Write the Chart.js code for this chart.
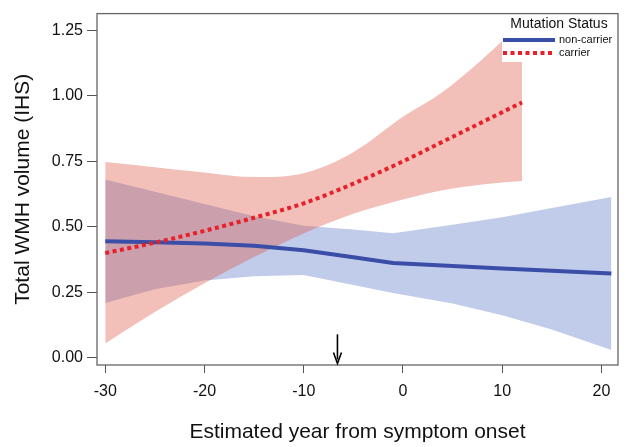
<!DOCTYPE html>
<html>
  <head>
    <title>Total WMH volume by mutation status</title>
    <style>
      html, body { margin: 0; padding: 0; background: #fff; }
    </style>
  </head>
  <body>
    <script src="https://cdn.jsdelivr.net/npm/chart.js"></script>

    <canvas id="wmhChart" width="629" height="447"></canvas>

    <script>
      // Data
      const nonCarrierYears = [-30, -25, -20, -15, -10, -5, -1, 5, 10, 15, 21];
      const nonCarrierMean  = [0.445, 0.441, 0.437, 0.428, 0.411, 0.384, 0.362, 0.351, 0.341, 0.333, 0.322];
      const nonCarrierUpper = [0.681, 0.634, 0.587, 0.541, 0.504, 0.490, 0.476, 0.508, 0.537, 0.572, 0.614];
      const nonCarrierLower = [0.210, 0.262, 0.295, 0.312, 0.316, 0.278, 0.248, 0.208, 0.163, 0.108, 0.030];

      const carrierYears = [-30, -25, -20, -15, -10, -5, 0, 4, 8, 12];
      const carrierMean  = [0.400, 0.440, 0.485, 0.535, 0.590, 0.665, 0.750, 0.825, 0.900, 0.975];
      const carrierUpper = [0.748, 0.728, 0.708, 0.690, 0.705, 0.785, 0.920, 1.015, 1.140, 1.280];
      const carrierLower = [0.055, 0.175, 0.285, 0.385, 0.475, 0.550, 0.605, 0.640, 0.662, 0.675];

      const xTicks = [-30, -20, -10, 0, 10, 20];
      const yTicks = [0, 0.25, 0.5, 0.75, 1.0, 1.25];

      // arrow marking the mean estimated onset
      const arrowYear = -6.6;
      const arrowFrom = 0.09;
      const arrowTo = -0.021;

      const FONT = "'Liberation Sans', Arial, sans-serif";

      const pts = (xs, ys) => xs.map((x, i) => ({ x: x, y: ys[i] }));

      const bandStyle = { pointRadius: 0, borderWidth: 0, tension: 0 };

      // Legend drawn inside the plot, top right, on a white box
      const statusLegend = {
        id: 'statusLegend',
        afterDatasetsDraw(chart) {
          const c = chart.ctx;
          const a = chart.chartArea;
          c.save();
          c.fillStyle = '#fff';
          c.fillRect(502, a.top, a.right - 502, 62 - a.top);
          c.fillStyle = '#111';
          c.textBaseline = 'middle';
          c.textAlign = 'center';
          c.font = '14px ' + FONT;
          c.fillText('Mutation Status', 559, 24);
          c.textAlign = 'left';
          c.font = '11px ' + FONT;
          const rows = [chart.data.datasets[4], chart.data.datasets[5]];
          rows.forEach((ds, i) => {
            const y = 40 + i * 13;
            c.strokeStyle = ds.borderColor;
            c.lineWidth = ds.borderWidth;
            c.setLineDash(ds.borderDash || []);
            c.beginPath();
            c.moveTo(503, y);
            c.lineTo(555, y);
            c.stroke();
            c.setLineDash([]);
            c.fillText(ds.label, 559, y);
          });
          c.restore();
        },
        afterDraw(chart) {
          const c = chart.ctx;
          const a = chart.chartArea;
          const xs = chart.scales.x, ys = chart.scales.y;
          c.save();
          // box
          c.strokeStyle = '#666';
          c.lineWidth = 1.3;
          c.strokeRect(a.left, a.top, a.right - a.left, a.bottom - a.top);
          // arrow
          const ax = xs.getPixelForValue(arrowYear);
          const y0 = ys.getPixelForValue(arrowFrom);
          const y1 = ys.getPixelForValue(arrowTo);
          c.strokeStyle = '#000';
          c.lineWidth = 1.6;
          c.beginPath();
          c.moveTo(ax, y0);
          c.lineTo(ax, y1 - 4);
          c.stroke();
          c.beginPath();
          c.moveTo(ax - 4, y1 - 11);
          c.lineTo(ax, y1);
          c.lineTo(ax + 4, y1 - 11);
          c.stroke();
          c.restore();
        }
      };

      const ctx = document.getElementById('wmhChart').getContext('2d');
      const chart = new Chart(ctx, {
        type: 'line',
        data: {
          datasets: [
            { label: 'non-carrier upper', data: pts(nonCarrierYears, nonCarrierUpper), fill: '+1',
              backgroundColor: 'rgba(67,100,190,0.33)', order: 3, ...bandStyle },
            { label: 'non-carrier lower', data: pts(nonCarrierYears, nonCarrierLower), fill: false, order: 3, ...bandStyle },
            { label: 'carrier upper', data: pts(carrierYears, carrierUpper), fill: '+1',
              backgroundColor: 'rgba(220,80,60,0.36)', order: 2, cubicInterpolationMode: 'monotone', ...bandStyle },
            { label: 'carrier lower', data: pts(carrierYears, carrierLower), fill: false, order: 2,
              cubicInterpolationMode: 'monotone', ...bandStyle },
            { label: 'non-carrier', data: pts(nonCarrierYears, nonCarrierMean), borderColor: '#3a4ea8',
              borderWidth: 4, pointRadius: 0, fill: false, tension: 0, order: 1 },
            { label: 'carrier', data: pts(carrierYears, carrierMean), borderColor: '#e8202a',
              borderWidth: 4, borderDash: [4, 3.5], borderCapStyle: 'butt', pointRadius: 0,
              fill: false, cubicInterpolationMode: 'monotone', order: 0 }
          ]
        },
        options: {
          responsive: false,
          animation: false,
          layout: { padding: { left: 0, right: 11, top: 7, bottom: 0 } },
          plugins: {
            legend: { display: false },
            tooltip: { enabled: false }
          },
          scales: {
            x: {
              type: 'linear',
              min: -30.83,
              max: 21.67,
              afterBuildTicks: s => { s.ticks = xTicks.map(v => ({ value: v })); },
              afterFit: s => { s.height = 82; },
              border: { display: false },
              grid: { drawOnChartArea: false, drawTicks: true, tickLength: 8, color: '#555', lineWidth: 1 },
              ticks: { color: '#111', padding: 9, font: { family: FONT, size: 16 }, maxRotation: 0 },
              title: { display: true, text: 'Estimated year from symptom onset', color: '#111',
                font: { family: FONT, size: 21 }, padding: { top: 0, bottom: 2 } }
            },
            y: {
              min: -0.027,
              max: 1.314,
              afterBuildTicks: s => { s.ticks = yTicks.map(v => ({ value: v })); },
              afterFit: s => { s.width = 97; },
              border: { display: false },
              grid: { drawOnChartArea: false, drawTicks: true, tickLength: 10, color: '#555', lineWidth: 1 },
              ticks: { color: '#111', padding: 4, font: { family: FONT, size: 16 },
                callback: v => v.toFixed(2) },
              title: { display: true, text: 'Total WMH volume (IHS)', color: '#111',
                font: { family: FONT, size: 21 }, padding: { top: 11, bottom: 0 } }
            }
          }
        },
        plugins: [statusLegend]
      });
    </script>
  </body>
</html>
